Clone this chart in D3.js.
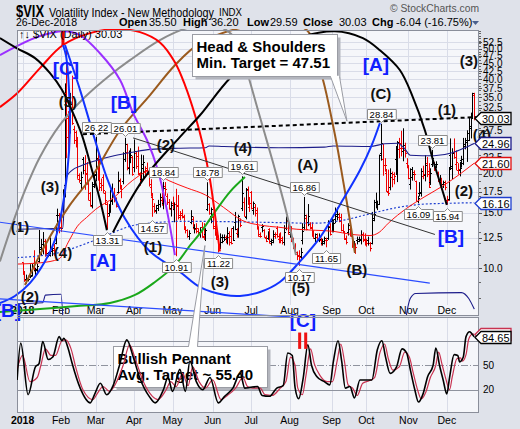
<!DOCTYPE html>
<html><head><meta charset="utf-8">
<script src="https://cdn.jsdelivr.net/npm/d3@7/dist/d3.min.js"></script>
<style>
html,body{margin:0;padding:0;background:#fff;}
svg{display:block;}
text{font-family:"Liberation Sans",Arial,Helvetica,sans-serif;}
</style></head><body>
<svg id="chart" width="520" height="429"></svg>
<script>
// ---------------- DATA ----------------
const holidays = ["2018-01-15","2018-02-19","2018-03-30","2018-05-28","2018-07-04","2018-09-03","2018-11-22","2018-12-05","2018-12-25"];
const monthNames = ["2018","Feb","Mar","Apr","May","Jun","Jul","Aug","Sep","Oct","Nov","Dec"];
const prevClose = 11.04;
// daily [open, high, low, close]
const jan = [[10.42,10.42,9.51,9.77],[9.73,9.73,9.04,9.15],[9.23,9.53,8.92,9.22],[9.21,9.46,9.07,9.22],[9.46,10.29,9.29,9.52],[9.43,10.33,9.43,10.08],[10.35,11.40,9.80,9.82],[9.88,10.02,9.36,9.88],[9.91,10.33,9.56,10.16],[10.50,13.23,10.40,11.66],[11.53,12.39,10.95,11.91],[11.90,13.03,11.06,12.22],[12.17,12.37,10.87,11.27],[11.78,11.93,10.96,11.03],[11.19,11.25,10.84,11.10],[10.99,12.52,10.88,11.47],[11.34,11.88,10.92,11.58],[11.39,11.94,10.94,11.08],[12.00,13.84,11.91,13.84],[14.77,15.47,13.94,14.79],[14.15,14.98,12.91,13.54]];
const feb = [[13.57,14.85,13.04,13.47],[14.70,17.83,14.18,17.31],[18.44,38.80,16.80,37.32],[36.06,50.30,22.42,29.98],[26.26,31.64,22.79,27.73],[27.19,36.17,26.85,33.46],[31.74,41.06,28.61,29.06],[27.79,28.42,24.86,25.61],[27.10,27.43,24.24,24.97],[25.20,26.18,19.26,19.26],[19.87,20.04,18.71,19.13],[18.70,20.29,17.82,19.46],[22.19,22.59,19.91,20.60],[20.49,22.91,17.76,20.02],[20.03,21.78,18.44,18.72],[18.76,18.86,16.47,16.49],[17.35,17.48,15.73,15.80],[15.90,18.82,15.50,18.59],[18.29,20.25,17.99,19.85]];
const mar = [[19.98,26.22,18.90,22.47],[22.30,23.20,19.00,19.59],[21.60,22.10,17.60,18.73],[18.20,19.30,17.60,18.36],[19.50,19.90,17.30,17.76],[17.30,17.60,15.90,16.54],[16.00,16.20,13.31,14.64],[15.00,16.00,14.60,15.78],[15.60,17.80,15.00,16.35],[16.50,18.60,15.90,17.23],[17.00,18.00,16.20,16.59],[16.60,16.80,15.60,15.80],[17.50,20.30,17.30,19.02],[19.00,19.30,17.80,18.20],[18.20,18.40,16.70,17.86],[18.90,23.40,18.50,23.34],[22.30,26.01,21.80,24.87],[23.40,24.90,20.50,21.03],[20.80,23.70,19.90,22.50],[22.50,24.10,21.60,22.87],[22.60,22.80,19.70,19.97]];
const apr = [[21.00,25.70,20.20,23.62],[23.20,23.50,20.70,21.10],[22.80,24.40,19.80,20.06],[20.00,20.20,18.30,18.94],[19.30,23.00,18.90,21.49],[20.80,22.90,19.20,21.77],[20.40,21.10,19.70,20.47],[20.90,21.70,19.90,20.24],[19.90,20.00,18.20,18.49],[18.10,19.20,16.90,17.41],[16.90,17.30,14.57,16.56],[15.80,16.10,15.00,15.25],[15.30,15.90,14.90,15.60],[15.90,16.50,15.20,15.96],[16.00,17.30,15.60,16.88],[16.50,17.40,15.80,16.34],[16.10,18.84,15.40,18.02],[18.30,18.80,17.00,17.84],[17.00,17.30,15.90,16.24],[16.20,16.60,15.40,15.41],[15.60,16.30,14.60,15.93]];
const may = [[16.10,16.90,15.30,15.49],[15.40,16.20,14.00,15.97],[16.00,17.90,10.91,15.90],[15.80,17.10,14.30,14.77],[14.50,15.20,14.20,14.75],[15.00,15.40,14.40,14.71],[14.50,14.80,13.30,13.42],[13.30,13.60,12.90,13.23],[13.20,13.30,12.50,12.65],[12.70,13.20,12.30,12.93],[14.00,15.30,13.80,14.63],[14.30,14.60,13.30,13.42],[13.50,13.80,12.90,13.43],[13.30,13.90,12.90,13.42],[13.10,13.40,12.70,13.08],[13.00,13.50,12.50,13.22],[13.50,14.00,12.50,12.58],[12.70,13.90,12.30,12.53],[12.80,13.40,12.20,13.22],[15.40,18.78,15.20,17.02],[16.00,16.10,14.80,14.94],[14.70,15.60,13.90,15.43]];
const jun = [[14.60,14.70,13.30,13.46],[13.60,14.10,12.70,12.74],[13.00,13.10,12.30,12.40],[12.60,12.70,11.22,11.64],[11.90,12.90,11.50,12.13],[12.60,12.80,12.00,12.18],[12.60,12.80,12.20,12.35],[12.60,12.70,12.00,12.34],[12.50,13.50,11.90,12.94],[12.60,13.10,11.80,12.12],[12.70,13.40,11.90,11.98],[13.40,13.60,12.20,12.31],[14.00,15.10,13.20,13.35],[12.90,13.40,12.50,12.79],[12.80,14.80,12.50,14.64],[14.20,14.40,13.50,13.77],[15.50,19.61,15.20,17.33],[16.20,16.80,14.60,14.64],[14.60,18.00,14.30,17.91],[17.80,18.20,15.90,16.85],[15.70,16.80,15.10,16.09]];
const jul = [[17.50,17.60,15.40,15.60],[15.30,16.30,14.80,16.14],[15.70,16.00,14.60,14.97],[15.30,15.60,13.30,13.37],[13.50,13.60,12.60,12.69],[12.80,13.00,12.50,12.64],[13.50,13.80,13.00,13.63],[13.20,13.30,12.50,12.58],[12.50,12.70,12.10,12.18],[12.50,13.10,12.30,12.83],[13.30,13.40,12.00,12.06],[12.20,12.40,11.80,12.10],[12.30,13.20,12.00,12.87],[12.70,13.00,12.40,12.86],[13.40,13.60,12.50,12.62],[12.40,12.90,12.00,12.41],[12.50,13.00,12.00,12.29],[12.50,12.60,11.90,12.14],[12.10,13.70,11.80,13.03],[13.40,14.60,13.20,14.26],[14.10,14.20,12.80,12.83]];
const aug = [[13.00,13.60,12.50,13.15],[13.50,13.60,12.10,12.19],[12.30,12.50,11.50,11.64],[11.80,12.00,11.20,11.27],[11.10,11.30,10.60,10.93],[11.00,11.40,10.17,10.85],[10.90,11.60,10.70,11.27],[12.30,13.90,11.90,13.16],[13.50,16.86,13.20,14.78],[14.40,14.80,13.20,13.31],[14.00,16.00,13.60,14.64],[13.80,14.00,13.30,13.45],[13.50,14.00,12.60,12.64],[13.00,13.20,12.40,12.49],[12.50,12.90,12.10,12.86],[12.60,12.90,12.10,12.25],[12.30,12.90,12.10,12.41],[12.30,12.50,11.80,11.99],[12.00,12.40,11.80,12.16],[12.00,12.60,11.90,12.50],[12.30,12.50,11.65,12.25],[12.50,14.20,12.30,13.53],[13.60,13.90,12.70,12.86]];
const sep = [[14.10,14.50,13.00,13.16],[13.30,14.30,13.00,13.91],[14.30,15.60,13.90,14.65],[14.90,15.60,14.20,14.88],[14.60,15.00,14.00,14.16],[14.50,14.90,13.10,13.22],[13.20,13.80,13.00,13.14],[13.00,13.10,12.30,12.37],[12.50,12.70,11.90,12.07],[13.00,13.90,12.70,13.68],[13.30,13.50,12.60,12.79],[12.70,12.90,11.60,11.75],[11.80,12.20,11.20,11.80],[11.60,12.00,11.10,11.68],[12.30,12.60,11.90,12.20],[12.40,12.60,12.10,12.42],[12.30,13.20,11.90,12.89],[12.80,13.00,12.10,12.41],[12.30,12.90,11.80,12.12]];
const oct = [[12.20,12.40,11.70,12.00],[12.30,12.60,11.80,12.05],[12.00,12.10,11.30,11.61],[12.00,15.10,11.90,14.22],[14.40,16.50,14.10,14.82],[16.30,17.40,15.50,15.69],[16.10,16.40,15.30,15.95],[16.00,23.00,15.90,22.96],[23.20,28.84,22.00,24.98],[22.30,24.90,19.70,21.31],[21.30,22.40,20.30,21.30],[20.10,20.70,17.50,17.62],[17.50,20.60,17.00,17.40],[18.20,20.80,17.70,20.06],[19.50,20.30,18.10,19.89],[19.20,20.20,18.50,19.64],[22.30,24.50,19.80,20.71],[20.40,25.40,18.80,25.23],[24.00,26.00,22.40,24.22],[25.00,27.40,22.70,24.16],[23.60,27.90,21.90,24.70],[23.80,25.10,22.50,23.35],[21.70,22.40,20.80,21.23]];
const nov = [[21.00,21.30,19.20,19.34],[18.60,20.80,17.80,19.51],[20.70,21.00,19.00,19.96],[20.20,20.50,19.00,19.91],[19.00,19.00,16.30,16.36],[16.40,17.00,16.09,16.72],[17.40,18.80,16.90,17.36],[17.50,20.80,16.90,20.45],[19.70,21.20,19.20,20.02],[19.80,22.90,18.90,21.25],[21.60,22.60,19.50,19.98],[20.40,21.60,18.00,18.14],[18.80,20.80,18.40,20.10],[21.50,23.81,21.00,22.48],[21.70,21.80,20.40,20.80],[21.40,21.90,20.80,21.52],[19.80,20.30,18.80,18.90],[19.30,19.80,18.50,19.02],[18.90,19.40,17.80,18.49],[18.50,19.00,18.00,18.79],[18.60,19.00,17.70,18.07]];
const dec = [[16.50,17.00,15.94,16.44],[16.60,21.00,16.40,20.74],[23.00,25.90,20.70,21.19],[20.80,24.10,19.20,23.23],[23.40,25.90,22.30,22.64],[21.40,23.70,20.50,21.76],[20.60,21.60,19.90,20.65],[20.60,21.80,19.60,20.88],[22.10,22.80,20.90,21.63],[22.30,26.00,21.30,24.52],[24.90,26.00,23.90,25.58],[25.30,27.50,21.80,25.58],[27.00,30.30,25.40,28.38],[28.00,31.30,25.90,30.11],[30.60,36.20,29.90,36.07],[35.50,36.20,29.59,30.03]];

// overlays, sampled [tradingDayIndex, value]
const ma50 = [[-3,10.3],[10,10.4],[20,10.7],[25,12.1],[30,13.6],[35,14.5],[40,15.4],[50,16.8],[60,19.0],[70,20.4],[80,19.0],[90,18.0],[100,17.1],[110,15.6],[120,14.2],[130,13.7],[140,13.5],[150,13.3],[160,13.2],[170,13.1],[180,12.8],[190,12.7],[195,13.0],[200,13.9],[210,15.5],[220,16.9],[230,18.3],[240,20.1],[247,21.60]];
const bbUpper = [[-3,13.3],[22,13.4],[23,17.5],[24,19.5],[27,20.5],[32,21.2],[40,22.0],[50,22.8],[60,23.4],[70,23.9],[85,24.1],[100,24.2],[102,24.5],[110,24.4],[140,24.2],[165,24.3],[170,24.5],[190,24.4],[198,24.9],[205,25.0],[209,24.0],[212,22.9],[225,22.8],[235,23.3],[242,24.2],[247,24.96]];
const bbMid = [[-3,10.8],[20,11.2],[30,11.7],[40,12.3],[64,13.8],[90,14.1],[130,14.0],[160,13.9],[175,14.2],[190,14.9],[205,15.6],[220,16.0],[235,16.1],[247,16.16]];
const bbLowerA = [[-3,7.7],[11,7.75],[12.5,8.2],[21,8.25],[22.5,6.0]];
const bbLowerB = [[208,6.0],[212,8.0],[215,8.3],[240,8.35],[244,8.0],[247,7.4]];

// lower indicator [index, value]
const oscK = [[-3,32],[-1,77],[3,14],[7,48],[9,52],[11,79],[14,57],[16.5,60],[20,85],[21.5,80],[22.5,83],[25,70],[27,53],[31.5,22],[37,4],[39.5,15],[42.5,28],[46,14],[49.5,25],[53,50],[57,81],[60.5,60],[64,35],[69.5,11],[72.5,4],[77,20],[79.5,35],[82,18],[86,45],[89,18],[91.5,55],[95,30],[98.5,20],[102.5,35],[107,4],[110.5,12],[115,22],[119,40],[121.5,22],[124.5,23],[128.5,24],[131,13],[135,12],[139,22],[142.5,25],[145,65],[147.5,62],[149,23],[151,9],[153.5,35],[156,75],[158,50],[161,36],[165,30],[168,26],[170,55],[172.5,80],[174.5,55],[176.5,22],[179,24],[181.5,10],[184.5,32],[188,32],[191,32],[194,69],[196.5,80],[198.5,60],[201,40],[204.5,48],[207.5,70],[210,65],[212,45],[214.5,20],[216.5,5],[219,15],[221.5,36],[224.5,50],[226,71],[228,50],[230,32],[232,15],[233.5,35],[236,63],[238,62],[239,54],[241,60],[242.5,85],[244.5,91],[245.5,89],[247,84.65]];
const oscD = [[-3,45],[0,62],[4,30],[8,35],[10,50],[12.5,70],[15.5,62],[18,62],[21.5,80],[23.5,81],[26.5,70],[29,48],[33,20],[38.5,8],[41,16],[44,24],[47.5,18],[51,28],[55,50],[58.5,75],[62,55],[66,30],[71,12],[74,8],[78.5,20],[81,30],[84,24],[87.5,40],[90.5,25],[93,48],[96.5,30],[100,22],[104,32],[108.5,8],[112,13],[116.5,22],[120.5,35],[123,24],[126,22],[130,22],[132.5,14],[136.5,13],[140.5,21],[144,30],[146.5,60],[149,50],[150.5,22],[153,14],[155,38],[157.5,70],[159.5,52],[162.5,38],[166.5,30],[169.5,30],[172,55],[174,76],[176,55],[178,26],[180.5,22],[183,13],[186,28],[189.5,31],[192.5,35],[195.5,66],[198,76],[200,58],[202.5,44],[206,48],[209,66],[211.5,60],[213.5,42],[216,20],[218,9],[220.5,17],[223,35],[226,50],[227.5,66],[229.5,50],[231.5,33],[233.5,20],[235,36],[237.5,58],[239.5,59],[240.5,55],[242.5,63],[244,82],[246,88],[247,88.1]];

// analyst annotations in chart units [index, price]
const arcBlackA = [[-12.4,54.1],[-3.1,50.2],[6.8,46.7],[15,41.8],[21.5,37],[27.6,31.2],[32.5,26.5],[36.9,21.6],[42.3,16.5],[46.1,13.2]];
const arcBlackB = [[49.4,13.0],[65.8,19.1],[86.1,26.2],[97,30.7],[113.4,40.3],[129.8,48.4],[151.7,54.5],[170.8,56.9],[186.1,54.1],[195.4,49.5],[206.3,42.8],[213.4,35.1],[220,27.5],[224.4,22.1],[228.2,18.8],[232,15.9]];
const arcRed = [[-12.4,32.6],[-3.1,36],[9.5,43.4],[22.1,51.4],[36.9,56.1],[51.6,57.8],[64.2,56.5],[75.1,52.4],[83.3,45.3],[88.8,38.3],[94.3,30.7],[98.6,24.7],[102.5,19.1],[105.2,14.8],[107.9,11.3]];
const arcPurple = [[-12.4,47.7],[-3.1,51],[9.5,54.9],[22.1,56.9],[31.4,55.3],[42.3,48.4],[53.3,39.8],[60.4,31.2],[68,25.6],[74,20.5],[78.9,15.3],[83.3,11.0]];
const arcGray = [[-12.4,10.5],[-5.8,13.7],[1.3,17.7],[9.5,22.6],[20.4,28.6],[34.1,35.1],[47.8,41.2],[58.7,46],[75.1,53.3],[89.9,58.2],[105.2,59.5],[116.1,54.1],[121.6,44.3],[128.7,31.9],[134.2,24.7],[139.6,19.1],[144.6,14.8],[149.5,11.0]];
const arcBrown = [[1.3,8.83],[12.2,11.8],[25.9,15.9],[38.5,19.8],[53.3,27.5],[69.7,35.6],[83.3,44.3],[97,52.1],[118.9,58.2],[140.7,59.9],[155.5,57.3],[164.3,39.8],[169.2,29.6],[172.4,23.8],[175.2,19.1],[179,14.2],[181.7,11.2]];
const arcBlueU = [[23.2,51.4],[31.4,37],[39.6,25.6],[46.1,19.4],[56,14.4],[69.7,11.3],[86.1,9.72],[97,8.7],[110.7,8.21],[118.9,8.15],[129.8,8.39],[140.7,9.03],[151.7,10.5],[162.6,12.5],[173.5,15.9],[184.5,20.5],[191,24.7],[195.4,29.0]];
const arcBlueL = [[-12.4,7.74],[-4.2,8.15],[4,8.96],[12.2,10.5],[17.7,12.3],[21.5,15.3],[24.3,19.8],[25.9,27.5],[25.4,37],[23.7,47.7],[22.1,51.4]];
const arcGreen = [[-12.4,7.24],[9.5,7.4],[31.4,7.58],[47.8,7.74],[61.5,8.21],[72.4,9.03],[83.3,10.2],[91.5,11.8],[97,12.9],[105.2,15.1],[113.4,17.5],[121.6,19.5]];
const trendBlue = [[-12.4,14.0],[222.7,8.96]];
const trendBlueLow = [[-12.4,7.98],[146.2,6.99]];
const trendBlack = [[60.4,26.0],[225.5,12.8]];
const neckline = [[33,26.7],[249.5,30.3]];
const topMark = [[22.1,56.9],[22.1,51.4]];
const waveLabels = [[24.8,33.8,"(5)"],[15,18.1,"(3)"],[-1.4,13.5,"(1)"],[22.1,11.2,"(4)"],[4,8.09,"(2)"],[78.4,24.7,"(2)"],[71.3,11.7,"(1)"],[120.5,24.1,"(4)"],[107.9,9.03,"(3)"],[156,21.3,"(A)"],[152.2,8.64,"(5)"],[182.8,9.86,"(B)"],[195.9,35.9,"(C)"],[232,31.9,"(1)"],[244.1,45.7,"(3)"],[251.2,26.5,"(4)"],[241.3,17.6,"(2)"]];
const cycleLabels = [[23.7,43.4,"[C]"],[55.4,33.6,"[B]"],[43.9,10.6,"[A]"],[193.2,44.7,"[A]"],[234.2,12.65,"[B]"],[153.3,6.83,"[C]"],[-8,7.3,"[B]"]];
const priceMarks = [[40,"H"],[56,"H"],[77,"H"],[46,"L"],[71,"L"],[84,"L"],[101,"H"],[107,"L"],[120,"H"],[154,"H"],[151,"L"],[166,"L"],[196,"H"],[224,"H"],[216,"L"],[232,"L"]];
const yTicks = [10,12.5,15,17.5,20,22.5,25,27.5,30,32.5,35,37.5,40,42.5,45,47.5,50,52.5];
const oscTicks = [20,50,80];

// ---------------- LAYOUT / STYLE ----------------
const C = {outer:"#dfe2ea", plot:"#f5f6fa", grid:"#d9dce8", border:"#8a8e9a", up:"#000000", down:"#ee0000"};
const PL=17, PR=479, PT=30, PB=303, PS=316, LT=317, LB=413;
const fmtD = d3.timeFormat("%Y-%m-%d");
const days = d3.timeDay.range(new Date(2018,0,2), new Date(2018,11,27))
  .filter(d => d.getDay()!==0 && d.getDay()!==6 && !holidays.includes(fmtD(d)));
const bars = [].concat(jan,feb,mar,apr,may,jun,jul,aug,sep,oct,nov,dec);
const monthStart = [];
days.forEach((d,i)=>{ if(i===0 || d.getMonth()!==days[i-1].getMonth()) monthStart.push(i); });

const x = d3.scaleLinear().domain([-3.06, 249.6]).range([PL, PR]);
const y = d3.scaleLog().domain([7.74, 57.4]).range([PB, PT]);
const yo = d3.scaleLinear().domain([-8.4, 109]).range([LB, LT]);

const svg = d3.select("#chart");
svg.append("rect").attr("width",520).attr("height",429).attr("fill",C.outer);
const defs = svg.append("defs");
defs.append("clipPath").attr("id","cp").append("rect").attr("x",PL).attr("y",PT).attr("width",PR-PL).attr("height",PS-PT);
defs.append("clipPath").attr("id","ca").append("rect").attr("x",0).attr("y",PT-1).attr("width",PR+1).attr("height",LT-PT+1);
defs.append("clipPath").attr("id","cl").append("rect").attr("x",PL).attr("y",LT).attr("width",PR-PL).attr("height",LB-LT);

// header
svg.append("text").attr("x",16).attr("y",17).attr("font-size",16).attr("font-weight","bold")
  .attr("textLength",28).attr("lengthAdjust","spacingAndGlyphs").text("$VIX");
svg.append("text").attr("x",49).attr("y",17).attr("font-size",13.5)
  .attr("textLength",165).attr("lengthAdjust","spacingAndGlyphs").text("Volatility Index - New Methodology");
svg.append("text").attr("x",219).attr("y",16).attr("font-size",10).attr("textLength",23).attr("lengthAdjust","spacingAndGlyphs").text("INDX");
svg.append("text").attr("x",16).attr("y",26).attr("font-size",11).attr("textLength",61).attr("lengthAdjust","spacingAndGlyphs").text("26-Dec-2018");
[["Open",119,1],["35.50",149,0],["High",183,1],["36.20",211,0],["Low",247,1],["29.59",270,0],["Close",303,1],["30.03",339,0],["Chg",372,1],["-6.04 (-16.75%)",396,0]]
  .forEach(([t,xx,b])=>svg.append("text").attr("x",xx).attr("y",26).attr("font-size",11).attr("font-weight",b?"bold":"normal").text(t));
svg.append("path").attr("d","M472,21 L479,21 L475.5,25 Z").attr("fill","#4a5f8c");
svg.append("text").attr("x",390).attr("y",12).attr("font-size",10).attr("fill","#555")
  .attr("textLength",89).attr("lengthAdjust","spacingAndGlyphs").text("\u00A9 StockCharts.com");

// panels (price panel includes its date strip)
svg.append("rect").attr("x",PL).attr("y",PT).attr("width",PR-PL).attr("height",PS-PT).attr("fill",C.plot);
svg.append("rect").attr("x",PL).attr("y",LT).attr("width",PR-PL).attr("height",LB-LT).attr("fill",C.plot);

// grid
const gGrid = svg.append("g");
yTicks.forEach(v=>gGrid.append("line").attr("x1",PL).attr("x2",PR).attr("y1",Math.round(y(v))+0.5).attr("y2",Math.round(y(v))+0.5).attr("stroke",C.grid));
monthStart.forEach(i=>{
  const xi = Math.round(x(i))+0.5;
  gGrid.append("line").attr("x1",xi).attr("x2",xi).attr("y1",PT).attr("y2",PB+2).attr("stroke",C.grid);
  gGrid.append("line").attr("x1",xi).attr("x2",xi).attr("y1",LT).attr("y2",LB).attr("stroke",C.grid);
});
oscTicks.forEach(v=>{
  const yy = Math.round(yo(v))+0.5;
  gGrid.append("line").attr("x1",PL).attr("x2",PR).attr("y1",yy).attr("y2",yy)
    .attr("stroke","#8f939e").attr("stroke-dasharray", v===50?"7,2,1,2":null);
});

// month labels inside the price panel
monthStart.forEach((i,k)=>svg.append("text").attr("x",x(i)).attr("y",314).attr("text-anchor","middle").attr("font-size",10.5)
  .attr("font-weight",k===0?"bold":"normal").text(monthNames[k]));

// price bars
const gBars = svg.append("g").attr("clip-path","url(#cp)");
bars.forEach((b,i)=>{
  const [o,h,l,c] = b;
  const prev = i ? bars[i-1][3] : prevClose;
  const col = c >= prev ? C.up : C.down;
  const xi = Math.round(x(i))+0.5;
  gBars.append("line").attr("x1",xi).attr("x2",xi).attr("y1",y(h)).attr("y2",y(l)).attr("stroke",col);
  gBars.append("line").attr("x1",xi-1.5).attr("x2",xi).attr("y1",Math.round(y(o))+0.5).attr("y2",Math.round(y(o))+0.5).attr("stroke",col);
  gBars.append("line").attr("x1",xi).attr("x2",xi+1.5).attr("y1",Math.round(y(c))+0.5).attr("y2",Math.round(y(c))+0.5).attr("stroke",col);
});

// overlays
const gOv = svg.append("g").attr("clip-path","url(#cp)");
const smooth = d3.line().x(d=>x(d[0])).y(d=>y(d[1])).curve(d3.curveMonotoneX);
gOv.append("path").attr("d",smooth(bbMid)).attr("fill","none").attr("stroke","#1f3fd0").attr("stroke-width",1.2).attr("stroke-dasharray","2,2");
[bbUpper,bbLowerA,bbLowerB].forEach(s=>gOv.append("path").attr("d",smooth(s)).attr("fill","none").attr("stroke","#1c1c8a").attr("stroke-width",1.1));
gOv.append("path").attr("d",smooth(ma50)).attr("fill","none").attr("stroke","#ff1010").attr("stroke-width",1);

// annotations
const gA = svg.append("g").attr("clip-path","url(#ca)");
const curve = d3.line().x(d=>x(d[0])).y(d=>y(d[1])).curve(d3.curveCatmullRom.alpha(0.5));
const straight = d3.line().x(d=>x(d[0])).y(d=>y(d[1]));
[[arcGreen,"#1aa81a"],[arcBrown,"#9a5a1e"],[arcGray,"#8c8c8c"],[arcPurple,"#9b30ff"],[arcRed,"#ff0000"],[arcBlueL,"#1133ff"],[arcBlueU,"#1133ff"],[arcBlackA,"#000"],[arcBlackB,"#000"]]
  .forEach(([pts,col])=>gA.append("path").attr("d",curve(pts)).attr("fill","none").attr("stroke",col).attr("stroke-width",2));
gA.append("path").attr("d",straight(trendBlue)).attr("stroke","#2b4cff").attr("stroke-width",1.2).attr("fill","none");
gA.append("path").attr("d",straight(trendBlueLow)).attr("stroke","#2b4cff").attr("stroke-width",1.2).attr("fill","none");
gA.append("path").attr("d",straight(trendBlack)).attr("stroke","#333").attr("stroke-width",1).attr("fill","none");
gA.append("path").attr("d",straight(neckline)).attr("stroke","#000").attr("stroke-width",2).attr("stroke-dasharray","4,3").attr("fill","none");
gA.append("path").attr("d",straight(topMark)).attr("stroke","#ee0000").attr("stroke-width",3).attr("fill","none");

// price value tags
const gT = svg.append("g");
priceMarks.forEach(([i,k])=>{
  const v = k==="H" ? bars[i][1] : bars[i][2];
  const px = Math.round(x(i))+0.5, py = y(v);
  const t = gT.append("text").attr("font-size",9.5).attr("text-anchor","middle").text(v.toFixed(2));
  const w = t.node().getComputedTextLength()+5, h = 10;
  const bx = Math.round(px - w/2)+0.5;
  let d, ty;
  if(k==="H"){ const by = Math.round(py-15)+0.5; d=`M${bx},${by}H${bx+w}V${by+h}H${px+3}L${px},${by+h+3}L${px-3},${by+h}H${bx}Z`; ty=by+8.3; }
  else { const by = Math.round(py+6)+0.5; d=`M${bx},${by}H${px-3}L${px},${by-3}L${px+3},${by}H${bx+w}V${by+h}H${bx}Z`; ty=by+8.3; }
  gT.insert("path","text").attr("d",d).attr("fill","#fff").attr("stroke","#8c8c8c");
  t.attr("x",px).attr("y",ty);
});
waveLabels.forEach(([i,v,s])=>gT.append("text").attr("x",x(i)).attr("y",y(v)+5).attr("text-anchor","middle").attr("font-size",15).attr("font-weight","bold").attr("fill","#111").text(s));
cycleLabels.forEach(([i,v,s])=>gT.append("text").attr("x",x(i)).attr("y",y(v)+6.5).attr("text-anchor","middle").attr("font-size",19).attr("font-weight","bold").attr("fill","#1020ff").text(s));

// plot legend
svg.append("text").attr("x",19).attr("y",38).attr("font-size",11).text("\u2191\u2193 $VIX (Daily) 30.03");

// panel borders
svg.append("rect").attr("x",PL+0.5).attr("y",PT+0.5).attr("width",PR-PL-1).attr("height",PS-PT-1).attr("fill","none").attr("stroke",C.border);
svg.append("rect").attr("x",PL+0.5).attr("y",LT+0.5).attr("width",PR-PL-1).attr("height",LB-LT-1).attr("fill","none").attr("stroke",C.border);

// callouts
function callout(x0,y0,w,h,tip,baseL,baseR,lines){
  const g = svg.append("g");
  g.append("rect").attr("x",x0+3).attr("y",y0+3).attr("width",w).attr("height",h).attr("fill","#b3b5bd");
  g.append("rect").attr("x",x0).attr("y",y0).attr("width",w).attr("height",h).attr("fill","#fff").attr("stroke","#9a9ca4");
  const by = tip[1] > y0 ? y0+h : y0;
  g.append("path").attr("d",`M${baseL},${by}L${tip[0]},${tip[1]}L${baseR},${by}`).attr("fill","#fff").attr("stroke","#9a9ca4");
  g.append("line").attr("x1",baseL+0.5).attr("x2",baseR-0.5).attr("y1",by).attr("y2",by).attr("stroke","#fff").attr("stroke-width",1.5);
  lines.forEach((s,k)=>g.append("text").attr("x",x0+4).attr("y",y0+17+k*16.5).attr("font-size",15).attr("font-weight","bold").text(s));
}
{
  const x0 = Math.round(x(92.6))+0.5, y0 = Math.round(y(55.7))+0.5;
  callout(x0,y0,145,42,[x(177.4),y(29.4)],x0+138,x0+147,["Head & Shoulders","Min. Target = 47.51"]);
}
{
  const x0 = Math.round(x(49.4))+0.5, y0 = Math.round(yo(73.5))+0.5;
  callout(x0,y0,154,41,[x(99.7),y(11.8)],x0+75,x0+84,["Bullish Pennant","Avg. Target ~ 55.40"]);
}

// lower panel lines
const gL = svg.append("g").attr("clip-path","url(#cl)");
const oline = d3.line().x(d=>x(d[0])).y(d=>yo(d[1])).curve(d3.curveMonotoneX);
gL.append("path").attr("d",oline(oscD)).attr("fill","none").attr("stroke","#c83250").attr("stroke-width",1.2);
gL.append("path").attr("d",oline(oscK)).attr("fill","none").attr("stroke","#000").attr("stroke-width",1.6);
[150.7,154].forEach(i=>svg.append("rect").attr("x",x(i)).attr("y",yo(90)).attr("width",3).attr("height",yo(70)-yo(90)).attr("fill","#ee1111"));

// right axis + tags
const tags = [
  [y(bbMid[bbMid.length-1][1]), bbMid[bbMid.length-1][1], "#1f3fd0", true],
  [y(ma50[ma50.length-1][1]), ma50[ma50.length-1][1], "#e01010", true],
  [y(bbUpper[bbUpper.length-1][1]), bbUpper[bbUpper.length-1][1], "#1c1c8a", true],
  [y(bars[bars.length-1][3]), bars[bars.length-1][3], "#000", true],
  [yo(oscD[oscD.length-1][1]), oscD[oscD.length-1][1], "#c83250", false],
  [yo(oscK[oscK.length-1][1]), oscK[oscK.length-1][1], "#000", true]];
const gR = svg.append("g");
for(let v=8; v<=57; v+=1){ const yy=Math.round(y(v))+0.5; if(yy>PT && yy<PB) gR.append("line").attr("x1",PR).attr("x2",PR+2).attr("y1",yy).attr("y2",yy).attr("stroke","#666"); }
const free = yy => tags.every(t=>Math.abs(t[0]-yy)>4);
yTicks.forEach(v=>{
  const yy = y(v);
  gR.append("line").attr("x1",PR).attr("x2",PR+3).attr("y1",Math.round(yy)+0.5).attr("y2",Math.round(yy)+0.5).attr("stroke","#555");
  if(free(yy)) gR.append("text").attr("x",483).attr("y",yy+3.6).attr("font-size",10).text(v.toFixed(1));
});
oscTicks.forEach(v=>{ if(free(yo(v))) gR.append("text").attr("x",483).attr("y",yo(v)+3.6).attr("font-size",10).text(v); });
tags.forEach(([yy,v,col,showText])=>{
  const yy0 = Math.round(yy)+0.5;
  svg.append("path").attr("d",`M475,${yy0}L481,${yy0-6}H511V${yy0+6}H481Z`).attr("fill","#fff").attr("stroke",col).attr("stroke-width",1.3);
  if(showText) svg.append("text").attr("x",482).attr("y",yy0+4).attr("font-size",11).text(v.toFixed(2));
});

// bottom date labels
monthStart.forEach((i,k)=>svg.append("text").attr("x",x(i)).attr("y",424).attr("text-anchor","middle").attr("font-size",10.5)
  .attr("font-weight",k===0?"bold":"normal").text(monthNames[k]));
</script></body></html>
